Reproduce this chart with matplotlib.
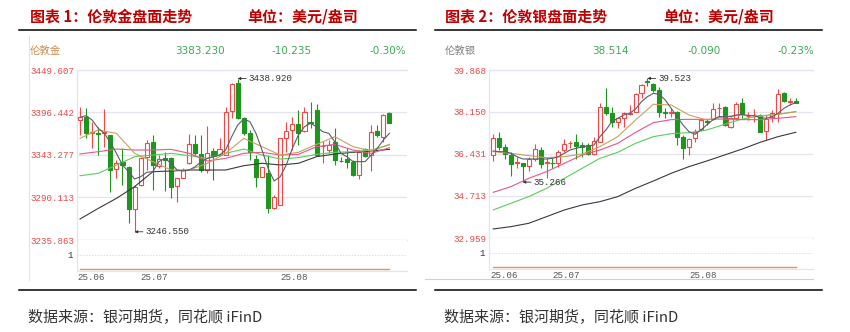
import matplotlib
matplotlib.use("Agg")
import matplotlib.pyplot as plt
from matplotlib.lines import Line2D

plt.rcParams['font.family'] = ['Noto Sans CJK SC', 'DejaVu Sans']

W, H = 850, 332

# ---- London gold, daily candles (52 sessions) ----
gold_open = [3386.8, 3390.2, 3371.0, 3370.9, 3371.0, 3368.0, 3324.9, 3334.6, 3328.3, 3275.1,
             3305.3, 3340.8, 3358.8, 3329.1, 3338.7, 3338.7, 3304.0, 3314.5, 3332.5, 3356.3,
             3343.8, 3324.1, 3347.9, 3342.9, 3342.9, 3398.2, 3432.9, 3389.8, 3370.9, 3337.5,
             3315.7, 3319.9, 3276.8, 3280.2, 3363.8, 3374.3, 3381.4, 3373.0, 3384.8, 3399.4,
             3354.2, 3349.2, 3358.8, 3335.8, 3337.5, 3333.7, 3317.8, 3350.0, 3342.9, 3373.0,
             3365.9, 3395.2]
gold_high = [3403.6, 3401.5, 3384.8, 3378.5, 3400.2, 3368.5, 3336.6, 3351.3, 3328.8, 3305.3,
             3340.8, 3361.7, 3368.0, 3342.9, 3347.1, 3340.8, 3314.5, 3326.2, 3369.3, 3368.0,
             3368.0, 3379.7, 3351.3, 3363.8, 3403.6, 3432.9, 3438.92, 3391.0, 3374.3, 3342.9,
             3328.3, 3342.9, 3292.7, 3364.6, 3384.8, 3391.0, 3399.4, 3403.6, 3409.9, 3406.5,
             3360.5, 3361.7, 3376.4, 3340.8, 3351.3, 3336.6, 3349.2, 3351.3, 3380.6, 3380.6,
             3394.5, 3396.5]
gold_low = [3368.0, 3363.8, 3351.3, 3342.9, 3353.4, 3296.9, 3313.6, 3305.3, 3257.1, 3246.55,
            3304.4, 3324.1, 3299.0, 3326.2, 3297.7, 3288.5, 3284.3, 3313.6, 3332.0, 3342.9,
            3322.0, 3319.9, 3311.5, 3342.5, 3342.5, 3388.9, 3388.0, 3368.0, 3336.6, 3303.2,
            3314.9, 3269.7, 3275.1, 3280.0, 3347.1, 3349.2, 3355.5, 3371.4, 3376.4, 3342.5,
            3332.5, 3345.0, 3330.4, 3334.6, 3326.2, 3317.0, 3312.8, 3340.8, 3322.8, 3365.9,
            3359.6, 3383.9]
gold_close = [3390.2, 3370.1, 3371.8, 3368.9, 3371.6, 3324.1, 3332.5, 3330.4, 3275.1, 3302.3,
              3338.7, 3357.6, 3330.4, 3337.5, 3337.0, 3303.2, 3313.6, 3324.1, 3356.3, 3345.0,
              3324.1, 3345.8, 3341.7, 3350.4, 3397.3, 3432.0, 3388.9, 3370.1, 3346.3, 3315.7,
              3327.4, 3276.8, 3290.6, 3363.8, 3373.0, 3381.4, 3370.1, 3397.3, 3382.7, 3342.9,
              3354.8, 3355.5, 3336.6, 3335.0, 3333.7, 3317.8, 3347.1, 3341.7, 3372.2, 3368.0,
              3393.465, 3383.23]
gold_ma5 = [3390.2, 3392.3, 3386.8, 3376.4, 3370.1, 3358.8, 3345.0, 3330.4, 3322.0, 3312.8,
            3315.7, 3321.2, 3322.0, 3334.6, 3338.7, 3332.5, 3324.1, 3322.8, 3324.1, 3328.3,
            3334.6, 3338.7, 3340.8, 3342.9, 3349.2, 3365.9, 3380.6, 3388.1, 3384.8, 3370.1,
            3349.2, 3326.2, 3310.3, 3315.7, 3330.4, 3351.3, 3368.0, 3378.5, 3382.7, 3378.5,
            3372.2, 3370.1, 3359.6, 3345.0, 3340.8, 3334.6, 3334.6, 3334.6, 3342.9, 3351.3,
            3361.7, 3370.1]
# longer averages read every third session
ma_idx = [0, 3, 6, 9, 12, 15, 18, 21, 24, 27, 30, 33, 36, 39, 42, 45, 48, 51]
gold_ma10 = [3363.8, 3374.3, 3370.1, 3345.0, 3334.6, 3324.1, 3324.1, 3332.5, 3345.0,
             3363.8, 3353.4, 3342.9, 3346.3, 3356.3, 3365.9, 3353.4, 3347.9, 3356.3]
gold_ma20 = [3344.2, 3347.1, 3350.4, 3349.2, 3349.2, 3350.0, 3345.0, 3335.4, 3338.7,
             3345.0, 3346.3, 3342.9, 3343.8, 3353.4, 3356.3, 3349.2, 3345.0, 3352.1]
gold_ma30 = [3316.9, 3319.9, 3330.4, 3340.8, 3342.9, 3345.0, 3342.1, 3338.7, 3345.0,
             3350.4, 3342.9, 3337.9, 3339.6, 3343.8, 3346.3, 3347.1, 3349.2, 3355.5]
gold_ma60 = [3262.6, 3275.9, 3288.5, 3303.2, 3322.0, 3322.8, 3324.1, 3324.1, 3324.1,
             3329.5, 3332.5, 3330.4, 3332.5, 3340.8, 3344.2, 3346.3, 3347.9, 3350.0]
gold_yticks = [3449.607, 3396.442, 3343.277, 3290.113, 3235.863]
gold_quote = ["3383.230", "-10.235", "-0.30%"]

# ---- London silver ----
silver_open = [36.379, 37.091, 36.721, 36.379, 36.037, 36.065, 35.942, 36.215, 36.585, 36.037,
               36.060, 36.037, 36.585, 36.870, 36.899, 36.790, 36.790, 36.407, 36.927, 38.363,
               38.090, 37.747, 37.884, 38.070, 38.158, 38.910, 39.430, 39.280, 39.047, 38.140,
               38.120, 38.158, 37.132, 36.721, 37.063, 37.447, 37.760, 37.857, 38.295, 38.336,
               37.542, 37.884, 38.527, 37.990, 38.010, 38.021, 37.364, 37.953, 38.090, 38.910,
               38.541, 38.596]
silver_high = [37.228, 37.310, 36.817, 36.516, 36.311, 36.070, 36.311, 36.817, 36.721, 36.243,
               36.270, 36.585, 37.036, 36.954, 37.228, 36.899, 36.858, 37.132, 38.527, 39.116,
               38.363, 37.953, 38.158, 38.432, 38.910, 39.280, 39.523, 39.321, 39.184, 38.295,
               38.295, 38.185, 37.200, 37.063, 37.447, 37.884, 37.857, 38.500, 38.500, 38.404,
               37.953, 38.568, 38.733, 38.158, 38.267, 38.048, 38.021, 38.226, 39.075, 38.979,
               38.733, 38.733]
silver_low = [36.133, 36.585, 36.215, 35.531, 35.832, 35.266, 35.723, 36.133, 35.832, 35.422,
              35.832, 35.901, 36.516, 36.653, 36.215, 36.311, 36.379, 36.379, 36.920, 38.021,
              37.542, 37.501, 37.542, 38.021, 38.131, 38.705, 39.225, 38.979, 37.953, 37.884,
              37.953, 36.790, 36.215, 36.379, 36.927, 37.364, 37.611, 37.816, 37.953, 37.583,
              37.501, 37.857, 37.884, 37.816, 37.747, 37.310, 36.995, 37.747, 37.747, 38.541,
              38.432, 38.500]
silver_close = [37.091, 36.721, 36.407, 35.996, 36.078, 35.942, 36.215, 36.626, 35.996, 36.106,
                36.030, 36.516, 36.817, 36.890, 36.762, 36.721, 36.407, 36.954, 38.363, 38.090,
                37.747, 37.884, 38.090, 38.095, 38.869, 39.252, 39.390, 39.047, 38.158, 38.120,
                38.140, 37.132, 36.680, 37.036, 37.337, 37.816, 37.735, 38.254, 38.322, 37.611,
                37.884, 38.459, 38.048, 38.000, 38.030, 37.337, 37.857, 38.090, 38.869, 38.596,
                38.604, 38.514]
silver_ma5 = [36.544, 36.516, 36.516, 36.448, 36.311, 36.215, 36.215, 36.215, 36.215, 36.215,
              36.243, 36.311, 36.448, 36.585, 36.653, 36.721, 36.749, 36.790, 37.132, 37.405,
              37.748, 37.884, 38.021, 38.090, 38.267, 38.568, 38.773, 38.910, 38.869, 38.637,
              38.295, 37.953, 37.611, 37.337, 37.228, 37.405, 37.611, 37.816, 37.953, 37.953,
              37.953, 38.021, 38.048, 37.994, 37.994, 37.912, 37.884, 37.953, 38.090, 38.295,
              38.432, 38.527]
silver_ma10 = [36.516, 36.448, 36.352, 36.270, 36.311, 36.420, 36.721, 37.132, 37.816,
               38.459, 38.432, 38.021, 37.816, 37.953, 38.021, 37.980, 38.048, 38.158]
silver_ma20 = [34.847, 35.080, 35.422, 35.695, 36.037, 36.379, 36.585, 36.858, 37.310,
               37.707, 37.830, 37.843, 37.843, 37.857, 37.830, 37.830, 37.884, 37.953]
silver_ma30 = [34.122, 34.396, 34.670, 35.011, 35.422, 35.832, 36.243, 36.489, 36.858,
               37.132, 37.255, 37.296, 37.405, 37.638, 37.857, 37.980, 38.048, 38.158]
silver_ma60 = [33.342, 33.438, 33.575, 33.848, 34.122, 34.328, 34.464, 34.670, 35.011,
               35.312, 35.627, 35.901, 36.133, 36.379, 36.626, 36.899, 37.132, 37.310]
silver_yticks = [39.868, 38.150, 36.431, 34.713, 32.959]
silver_quote = ["38.514", "-0.090", "-0.23%"]

# lower indicator pane (flat line) and month labels
sub_values = [0.0] * 52
month_pos = [-0.5, 10, 33]
month_labels = ["25.06", "25.07", "25.08"]

UP = '#f04848'
DOWN = '#1e961e'
GRID = '#e4e4ef'
MONO = 'Liberation Mono'
NUM_SIZE = 6.6


def rect(x0, y0, x1, y1):
    # pixel box (top-left origin) -> figure fraction
    return [x0 / W, 1 - y1 / H, (x1 - x0) / W, (y1 - y0) / H]


def fx(x):
    return x / W


def fy(y):
    return 1 - y / H


def draw_panel(fig, main_box, sub_box, o, h, l, c, ma5, ma10, ma20, ma30, ma60,
               yticks, xlim, body_min, low_i, high_i, fmt):
    ax = fig.add_axes(rect(*main_box))
    n = len(o)
    for i in range(n):
        up = c[i] >= o[i]
        col = UP if up else DOWN
        ax.vlines(i, l[i], h[i], color=col, lw=0.8, zorder=2)
        ax.bar(i, max(abs(c[i] - o[i]), body_min), bottom=min(o[i], c[i]), width=0.68,
               facecolor='white' if up else col, edgecolor=col, lw=0.8, zorder=3)
    ax.plot(ma_idx, ma60, color='#3a3a3a', lw=0.8, zorder=4)
    ax.plot(ma_idx, ma30, color='#5ccc5c', lw=0.8, zorder=4)
    ax.plot(ma_idx, ma20, color='#e8558c', lw=0.8, zorder=4)
    ax.plot(ma_idx, ma10, color='#c9a25a', lw=0.8, zorder=4)
    ax.plot(range(n), ma5, color='#5a5e6c', lw=0.8, zorder=5)

    ax.set_xlim(*xlim)
    ax.set_ylim(yticks[-1], yticks[0])
    ax.set_yticks(yticks)
    ax.set_yticklabels([fmt % v for v in yticks], family=MONO, fontsize=NUM_SIZE, color='#e84848')
    ax.tick_params(axis='y', length=0, pad=2)
    ax.set_xticks([])
    ax.grid(axis='y', color=GRID, lw=0.9)
    ax.spines['right'].set_visible(False)
    for s in ['left', 'top', 'bottom']:
        ax.spines[s].set_color(GRID)
        ax.spines[s].set_linewidth(0.9)

    for i, v in [(low_i, l[low_i]), (high_i, h[high_i])]:
        ax.annotate(fmt % v, xy=(i, v), xytext=(8, 0), textcoords='offset points',
                    ha='left', va='center', family=MONO, fontsize=NUM_SIZE, color='#333333',
                    arrowprops=dict(arrowstyle='-|>', color='#333333', lw=0.6, mutation_scale=4,
                                    shrinkA=0, shrinkB=0), zorder=6)

    sub = fig.add_axes(rect(*sub_box))
    sub.plot(range(n), sub_values, color='#e0955a', lw=1.0)
    sub.set_xlim(*xlim)
    sub.set_ylim(-0.1, 2.0)
    sub.set_yticks([1])
    sub.set_yticklabels(['1'], family=MONO, fontsize=NUM_SIZE, color='#333333')
    sub.tick_params(axis='y', length=0, pad=3)
    sub.grid(axis='y', color='#dcdce6', lw=0.7, ls=(0, (1.5, 1.5)))
    sub.set_xticks(month_pos)
    sub.set_xticklabels(month_labels, family=MONO, fontsize=NUM_SIZE, color='#555555', ha='left')
    sub.tick_params(axis='x', length=0, pad=1.5)
    for s in ['right', 'top']:
        sub.spines[s].set_visible(False)
    for s in ['left', 'bottom']:
        sub.spines[s].set_color(GRID)
        sub.spines[s].set_linewidth(0.9)
    return ax


fig = plt.figure(figsize=(W / 100, H / 100), dpi=100)

# gold panel
draw_panel(fig, (77, 70, 407, 240.3), (77, 240.3, 407, 270.7),
           gold_open, gold_high, gold_low, gold_close,
           gold_ma5, gold_ma10, gold_ma20, gold_ma30, gold_ma60,
           gold_yticks, (-0.5, 53.9), 0.6, 9, 26, '%.3f')
# silver panel
draw_panel(fig, (489, 70, 813, 238.3), (489, 238.3, 813, 268.5),
           silver_open, silver_high, silver_low, silver_close,
           silver_ma5, silver_ma10, silver_ma20, silver_ma30, silver_ma60,
           silver_yticks, (-0.7, 53.9), 0.008, 5, 26, '%.3f')

# titles
title_col = '#c00000'
for x, s in [(30, '图表 1：伦敦金盘面走势'), (247, '单位：美元/盎司'),
             (445, '图表 2：伦敦银盘面走势'), (663, '单位：美元/盎司')]:
    fig.text(fx(x), fy(17), s, fontsize=10.8, fontweight='bold', color=title_col,
             va='center', ha='left')

# rules under titles and above footers
for x0, x1 in [(19, 416), (435, 822)]:
    for y in (29.5, 289.5):
        fig.add_artist(Line2D([fx(x0), fx(x1)], [fy(y), fy(y)], color='black', lw=1.1))

# panel borders from the screenshot
fig.add_artist(Line2D([fx(28.5), fx(28.5)], [fy(36), fy(280)], color='#e2e2e8', lw=0.8))
fig.add_artist(Line2D([fx(425), fx(813)], [fy(279), fy(279)], color='#cfcfdc', lw=0.8))

# quote rows
green = '#3aaa55'
fig.text(fx(30), fy(51), '伦敦金', fontsize=7.5, color='#c88a50', va='center', ha='left')
fig.text(fx(445), fy(51), '伦敦银', fontsize=7.5, color='#808080', va='center', ha='left')
for xs, quote in [((175, 272, 370), gold_quote), ((592, 687, 777), silver_quote)]:
    for x, s in zip(xs, quote):
        fig.text(fx(x), fy(51), s, fontsize=7.5, color=green, va='center', ha='left',
                 family='DejaVu Sans')

# footers
for x in (28, 444):
    fig.text(fx(x), fy(317), '数据来源：银河期货，同花顺 iFinD', fontsize=10.8, color='#333333',
             va='center', ha='left')

fig.savefig('out.png', dpi=100)
